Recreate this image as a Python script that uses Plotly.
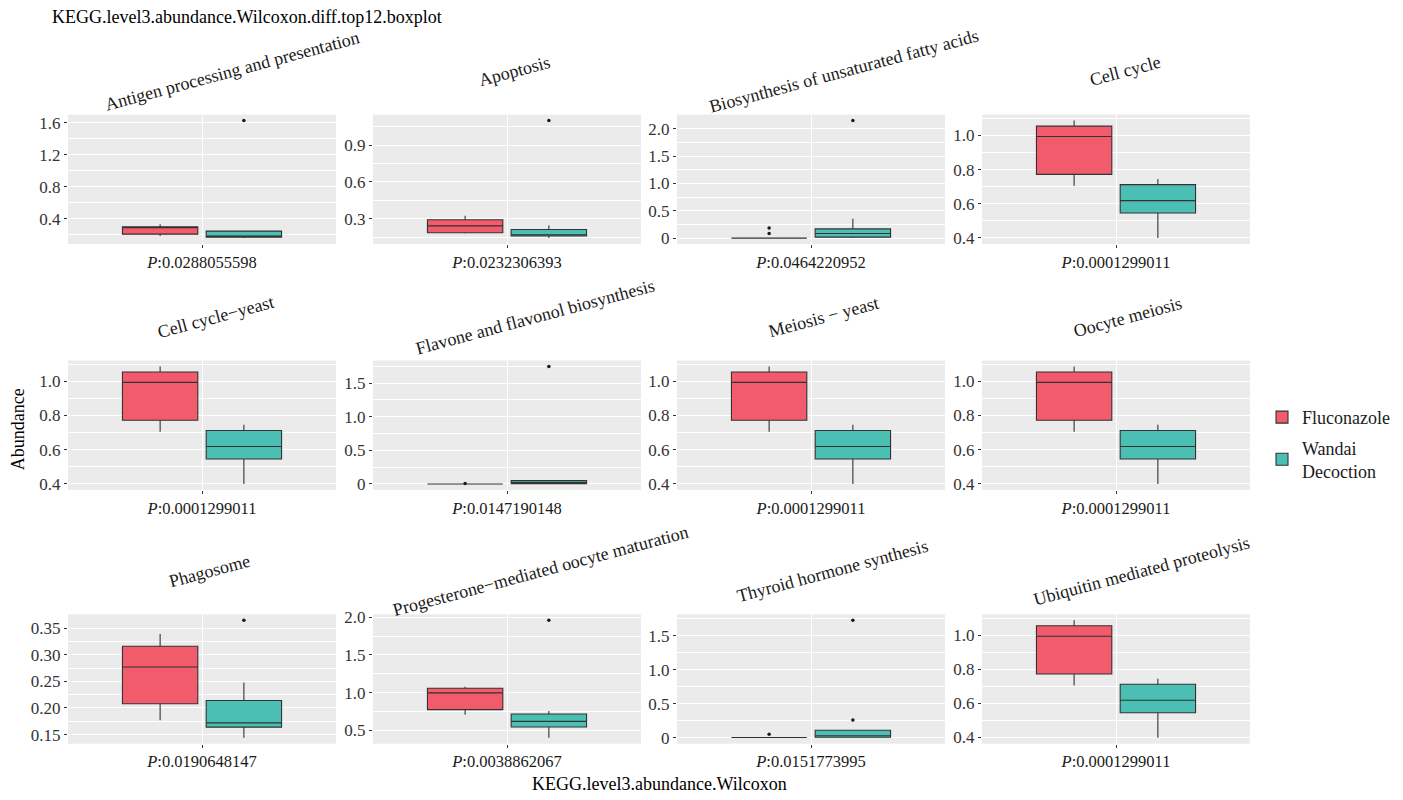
import plotly.graph_objects as go

# ---------------- data ----------------
pathways = [
    "Antigen processing and presentation", "Apoptosis",
    "Biosynthesis of unsaturated fatty acids", "Cell cycle",
    "Cell cycle\u2212yeast", "Flavone and flavonol biosynthesis",
    "Meiosis \u2212 yeast", "Oocyte meiosis",
    "Phagosome", "Progesterone\u2212mediated oocyte maturation",
    "Thyroid hormone synthesis", "Ubiquitin mediated proteolysis",
]
p_values = [
    "0.0288055598", "0.0232306393", "0.0464220952", "0.0001299011",
    "0.0001299011", "0.0147190148", "0.0001299011", "0.0001299011",
    "0.0190648147", "0.0038862067", "0.0151773995", "0.0001299011",
]
groups = ["Fluconazole", "Wandai<br>Decoction"]

# Fluconazole box statistics
fluc_lower  = [0.180, 0.180, 0.000, 0.705, 0.705, 0.000, 0.705, 0.705, 0.177, 0.707, 0.005, 0.705]
fluc_q1     = [0.205, 0.186, 0.000, 0.772, 0.772, 0.000, 0.772, 0.772, 0.208, 0.773, 0.005, 0.772]
fluc_median = [0.285, 0.242, 0.000, 0.994, 0.994, 0.000, 0.994, 0.994, 0.277, 0.996, 0.005, 0.994]
fluc_q3     = [0.297, 0.292, 0.000, 1.055, 1.055, 0.000, 1.055, 1.055, 0.316, 1.057, 0.005, 1.055]
fluc_upper  = [0.330, 0.324, 0.000, 1.088, 1.088, 0.000, 1.088, 1.088, 0.339, 1.078, 0.005, 1.088]
fluc_outliers = [[], [], [0.085, 0.186], [], [], [0.006], [], [], [], [], [0.053], []]

# Wandai Decoction box statistics
wand_lower  = [0.155, 0.142, 0.000, 0.398, 0.398, 0.000, 0.398, 0.398, 0.144, 0.400, 0.000, 0.398]
wand_q1     = [0.168, 0.159, 0.018, 0.545, 0.545, 0.004, 0.545, 0.545, 0.164, 0.544, 0.008, 0.545]
wand_median = [0.175, 0.170, 0.085, 0.618, 0.618, 0.020, 0.618, 0.618, 0.172, 0.618, 0.030, 0.618]
wand_q3     = [0.243, 0.212, 0.168, 0.712, 0.712, 0.050, 0.712, 0.712, 0.214, 0.716, 0.110, 0.712]
wand_upper  = [0.250, 0.244, 0.355, 0.745, 0.745, 0.055, 0.745, 0.745, 0.248, 0.755, 0.110, 0.745]
wand_outliers = [[1.63], [1.10], [2.15], [], [], [1.748], [], [], [0.365], [1.96], [0.26, 1.727], []]

tick_labels = [
    ["0.4", "0.8", "1.2", "1.6"],
    ["0.3", "0.6", "0.9"],
    ["0", "0.5", "1.0", "1.5", "2.0"],
    ["0.4", "0.6", "0.8", "1.0"],
    ["0.4", "0.6", "0.8", "1.0"],
    ["0", "0.5", "1.0", "1.5"],
    ["0.4", "0.6", "0.8", "1.0"],
    ["0.4", "0.6", "0.8", "1.0"],
    ["0.15", "0.20", "0.25", "0.30", "0.35"],
    ["0.5", "1.0", "1.5", "2.0"],
    ["0", "0.5", "1.0", "1.5"],
    ["0.4", "0.6", "0.8", "1.0"],
]

# ---------------- styling / layout ----------------
W, H = 1403, 800
FONT = "Liberation Serif"
colors = ["#F15B6C", "#4BBFB4"]
col_x0 = [68, 373, 677, 982]
panel_w = 268
row_y0 = [110, 359, 616]
panel_h = 131


def px(x):
    return x / W


def py(y):
    return 1 - y / H


fig = go.Figure()
stats = [
    (fluc_lower, fluc_q1, fluc_median, fluc_q3, fluc_upper, fluc_outliers),
    (wand_lower, wand_q1, wand_median, wand_q3, wand_upper, wand_outliers),
]

annotations = []
layout_axes = {}
for i, name in enumerate(pathways):
    r, c = divmod(i, 4)
    n = i + 1
    xa = "x" if n == 1 else f"x{n}"
    ya = "y" if n == 1 else f"y{n}"
    cat = f"<i>P</i>:{p_values[i]}"
    allvals = []
    for g, (lo, q1, md, q3, up, outs) in enumerate(stats):
        kw = dict(x=[cat], q1=[q1[i]], median=[md[i]], q3=[q3[i]],
                  lowerfence=[lo[i]], upperfence=[up[i]])
        if outs[i]:
            kw["y"] = [outs[i]]
        allvals += [lo[i], up[i]] + outs[i]
        fig.add_trace(go.Box(
            name=groups[g], legendgroup=groups[g], showlegend=(i == 0),
            alignmentgroup=f"panel{n}", offsetgroup=f"g{g}",
            fillcolor=colors[g], line=dict(color="#333333", width=1.1),
            marker=dict(color="#1A1A1A", size=3.5),
            boxpoints="outliers", jitter=0, pointpos=0, whiskerwidth=0,
            hoverinfo="skip", xaxis=xa, yaxis=ya, **kw))
    vmin, vmax = min(allvals), max(allvals)
    span = vmax - vmin
    yr = [vmin - 0.05 * span, vmax + 0.05 * span]
    tv = [float(t) for t in tick_labels[i]]
    step = tv[1] - tv[0]
    minor = [tv[0] - step / 2] + [(a + b) / 2 for a, b in zip(tv[:-1], tv[1:])] + [tv[-1] + step / 2]
    minor = [m for m in minor if yr[0] <= m <= yr[1]]

    layout_axes["xaxis" if n == 1 else f"xaxis{n}"] = dict(
        domain=[px(col_x0[c]), px(col_x0[c] + panel_w)], anchor=ya,
        type="category", range=[-0.6, 0.6],
        showgrid=True, gridcolor="white", gridwidth=1.1, zeroline=False,
        ticks="outside", ticklen=3, tickcolor="#333333", tickwidth=1,
        tickfont=dict(family=FONT, size=16.5, color="#1A1A1A"), fixedrange=True)
    layout_axes["yaxis" if n == 1 else f"yaxis{n}"] = dict(
        domain=[py(row_y0[r] + panel_h), py(row_y0[r])], anchor=xa,
        range=yr, tickvals=tv, ticktext=tick_labels[i],
        showgrid=True, gridcolor="white", gridwidth=1.1, zeroline=False,
        ticks="outside", ticklen=3, tickcolor="#333333", tickwidth=1,
        tickfont=dict(family=FONT, size=17, color="#333333"),
        minor=dict(tickvals=minor, showgrid=True, gridcolor="white", gridwidth=0.55, ticks=""),
        fixedrange=True)
    # strip title (rotated)
    cx = col_x0[c] + panel_w / 2 + 0.85 * len(name)
    cy = row_y0[r] - 44
    annotations.append(dict(
        text=name, x=px(cx), y=py(cy), xref="paper", yref="paper",
        xanchor="center", yanchor="middle", textangle=-15, showarrow=False,
        font=dict(family=FONT, size=18, color="#1A1A1A")))

annotations += [
    dict(text="KEGG.level3.abundance.Wilcoxon.diff.top12.boxplot", x=px(50), y=py(11),
         xref="paper", yref="paper", xanchor="left", yanchor="middle", showarrow=False,
         font=dict(family=FONT, size=18, color="black")),
    dict(text="KEGG.level3.abundance.Wilcoxon", x=px((col_x0[0] + col_x0[3] + panel_w) / 2),
         y=py(788), xref="paper", yref="paper", xanchor="center", yanchor="middle",
         showarrow=False, font=dict(family=FONT, size=18, color="black")),
    dict(text="Abundance", x=px(18), y=py((row_y0[0] + row_y0[2] + panel_h) / 2),
         xref="paper", yref="paper", xanchor="center", yanchor="middle", textangle=-90,
         showarrow=False, font=dict(family=FONT, size=18, color="black")),
]

fig.update_layout(
    width=W, height=H, margin=dict(l=0, r=0, t=0, b=0),
    paper_bgcolor="white", plot_bgcolor="#EBEBEB",
    boxmode="group", boxgap=0.25, boxgroupgap=0.1,
    font=dict(family=FONT, size=16, color="#1A1A1A"),
    legend=dict(x=px(1262), y=py(444), xanchor="left", yanchor="middle",
                font=dict(family=FONT, size=18, color="#1A1A1A"),
                bgcolor="rgba(0,0,0,0)", tracegroupgap=4),
    annotations=annotations,
    **layout_axes,
)

fig.write_html("out.html", config={"displayModeBar": False},
               post_script="document.body.style.margin='0px';document.body.style.overflow='hidden';")
